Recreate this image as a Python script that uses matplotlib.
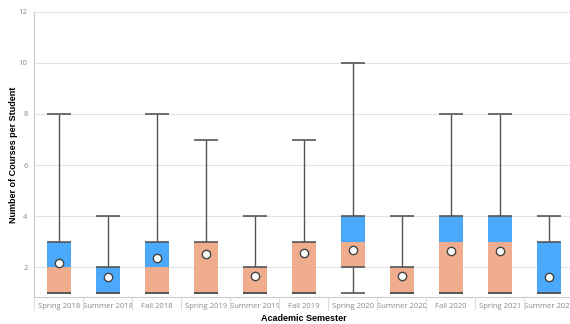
import matplotlib.pyplot as plt
import numpy as np

# semesters and box statistics (number of courses per student)
semesters = ['Spring 2018', 'Summer 2018', 'Fall 2018', 'Spring 2019', 'Summer 2019',
             'Fall 2019', 'Spring 2020', 'Summer 2020', 'Fall 2020', 'Spring 2021',
             'Summer 2021']
mins = [1, 1, 1, 1, 1, 1, 1, 1, 1, 1, 1]
q1s = [1, 1, 1, 1, 1, 1, 2, 1, 1, 1, 1]
medians = [2, 1, 2, 3, 2, 3, 3, 2, 3, 3, 1]
q3s = [3, 2, 3, 3, 2, 3, 4, 2, 4, 4, 3]
maxs = [8, 4, 8, 7, 4, 7, 10, 4, 8, 8, 4]
means = [2.16, 1.61, 2.35, 2.5, 1.65, 2.54, 2.67, 1.65, 2.64, 2.64, 1.6]

salmon = '#efad8e'
blue = '#4aa9fb'
edge = '#555555'

fig = plt.figure(figsize=(5.7, 3.24), dpi=100)
ax = fig.add_axes([0.0605, 0.083, 0.9456, 0.88])

x = np.arange(len(semesters))
w = 0.5

# lower half of the box (Q1 -> median) and upper half (median -> Q3)
ax.bar(x, np.array(medians) - np.array(q1s), bottom=q1s, width=w, color=salmon, zorder=2)
ax.bar(x, np.array(q3s) - np.array(medians), bottom=medians, width=w, color=blue, zorder=2)

# whiskers and caps
ax.vlines(x, q3s, maxs, color=edge, lw=1, zorder=3)
ax.vlines(x, mins, q1s, color=edge, lw=1, zorder=3)
for vals in (mins, q1s, q3s, maxs):
    ax.hlines(vals, x - w / 2, x + w / 2, color=edge, lw=1.2, zorder=3)

# means
ax.plot(x, means, 'o', ms=6, mfc='white', mec='#444444', mew=1, zorder=4)

ax.set_xlim(-0.5, len(semesters) - 0.5)
ax.set_ylim(0.82, 12)
ax.set_yticks([2, 4, 6, 8, 10, 12])
ax.yaxis.grid(True, color='#e3e3e3', lw=0.8)
ax.set_axisbelow(True)
ax.tick_params(axis='y', length=0, labelsize=5.5, labelcolor='#888888', pad=5)

ax.set_xticks(x)
ax.set_xticklabels(semesters)
ax.set_xticks(np.arange(len(semesters) + 1) - 0.5, minor=True)
ax.tick_params(axis='x', which='major', length=0, labelsize=5.5, labelcolor='#888888', pad=4)
ax.tick_params(axis='x', which='minor', length=9, color='#dddddd', width=0.8)

for s in ('top', 'right'):
    ax.spines[s].set_visible(False)
for s in ('left', 'bottom'):
    ax.spines[s].set_color('#cccccc')

ax.set_xlabel('Academic Semester', fontsize=6.5, fontweight='bold', family='Liberation Sans')
ax.set_ylabel('Number of Courses per Student', fontsize=6.5, fontweight='bold', family='Liberation Sans')
ax.xaxis.set_label_coords(0.5, -0.06)
ax.yaxis.set_label_coords(-0.031, 0.5)

for lab in ax.get_xticklabels() + ax.get_yticklabels():
    lab.set_family('Open Sans')

fig.savefig('out.png', dpi=100)
